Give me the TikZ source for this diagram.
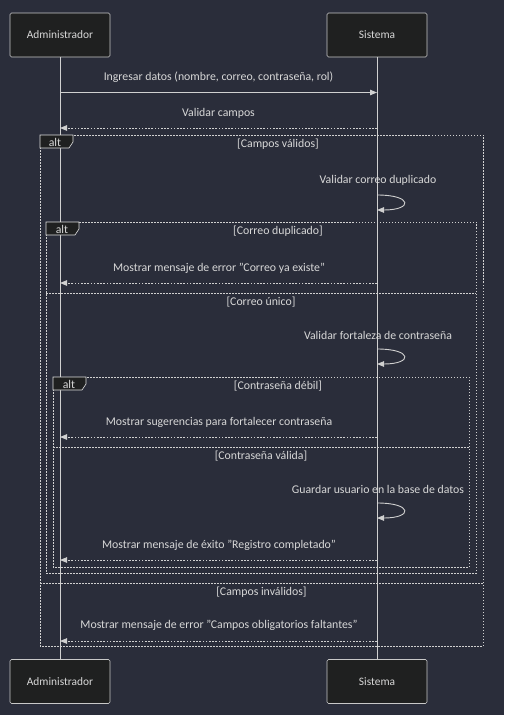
\documentclass[tikz,border=0pt]{standalone}
\usepackage{fontspec}
\setmainfont{Carlito}
\usetikzlibrary{arrows.meta}
\definecolor{bg}{HTML}{2A2D3A}
\definecolor{actfill}{HTML}{1F2020}
\definecolor{actline}{HTML}{C8C8C8}
\definecolor{ln}{HTML}{D0D0D0}
\definecolor{txt}{HTML}{D8D8D8}
\tikzset{
  actor/.style={draw=actline, fill=actfill, rounded corners=1.5pt, minimum width=100pt, minimum height=44pt, inner sep=0pt, text=txt, font=\fontsize{11.4}{13}\selectfont, line width=0.6pt},
  lifeline/.style={draw=ln, line width=0.9pt},
  msgtext/.style={text=txt, font=\fontsize{11.8}{13}\selectfont, inner sep=0pt},
  solidmsg/.style={draw=ln, line width=0.9pt, -{Triangle[length=7pt,width=5.5pt]}},
  dottedmsg/.style={draw=ln, line width=0.9pt, dash pattern=on 1.6pt off 1.6pt, -{Triangle[length=7pt,width=5.5pt]}},
  selfmsg/.style={draw=ln, line width=0.9pt, -{Triangle[length=7pt,width=5.5pt]}},
  frame/.style={draw=ln, line width=0.8pt, dash pattern=on 1.5pt off 1.5pt},
  altlabel/.style={draw=ln!70, fill=actfill, line width=0.6pt},
  altword/.style={text=txt, font=\fontsize{11.8}{13}\selectfont, inner sep=0pt},
  guard/.style={text=txt, font=\fontsize{11.8}{13}\selectfont, inner sep=0pt}
}
\begin{document}
\begin{tikzpicture}[x=1pt,y=-1pt]
\fill[bg] (0,0) rectangle (504,715);
\useasboundingbox (0,0) rectangle (504,715);

% actors
\node[actor] (admT) at (60,35) {Administrador};
\node[actor] (sisT) at (377,35) {Sistema};
\node[actor] (admB) at (60,681.5) {Administrador};
\node[actor] (sisB) at (377,681.5) {Sistema};

% lifelines
\draw[lifeline] (admT.south) -- (admB.north);
\draw[lifeline] (sisT.south) -- (sisB.north);

% frames
\draw[frame] (40,135) rectangle (483,646);
\draw[frame] (40,583) -- (483,583);
\draw[frame] (46,222) rectangle (476,573);
\draw[frame] (46,293) -- (476,293);
\draw[frame] (53,377) rectangle (469,567);
\draw[frame] (53,447) -- (469,447);

% alt labels
\draw[altlabel] (40,135) -- (73,135) -- (73,142) -- (69,148) -- (40,148) -- cycle;
\node[altword] (alt1) at (55,142) {alt};
\draw[altlabel] (46,222) -- (79,222) -- (79,229) -- (75,235) -- (46,235) -- cycle;
\node[altword] (alt2) at (62,229) {alt};
\draw[altlabel] (53,377) -- (86,377) -- (86,384) -- (82,390) -- (53,390) -- cycle;
\node[altword] (alt3) at (69,384) {alt};

% guards
\node[guard] (g1) at (278,144) {[Campos válidos]};
\node[guard] (g2) at (278,231) {[Correo duplicado]};
\node[guard] (g3) at (261,302) {[Correo único]};
\node[guard] (g4) at (278,386) {[Contraseña débil]};
\node[guard] (g5) at (261,456) {[Contraseña válida]};
\node[guard] (g6) at (261.5,592) {[Campos inválidos]};

% message coordinates
\coordinate (a1) at (60,92.5);  \coordinate (s1) at (377,92.5);
\coordinate (a2) at (60,128);   \coordinate (s2) at (377,128);
\coordinate (a6) at (60,283);   \coordinate (s6) at (377,283);
\coordinate (a10) at (60,437);  \coordinate (s10) at (377,437);
\coordinate (a13) at (60,560);  \coordinate (s13) at (377,560);
\coordinate (a15) at (60,641);  \coordinate (s15) at (377,641);
\coordinate (l1a) at (377,195); \coordinate (l1b) at (377,210);
\coordinate (l2a) at (377,349); \coordinate (l2b) at (377,364);
\coordinate (l3a) at (377,503); \coordinate (l3b) at (377,518);

% messages
\node[msgtext] (m1) at (218.5,77) {Ingresar datos (nombre, correo, contraseña, rol)};
\draw[solidmsg] (a1) -- (s1);
\node[msgtext] (m2) at (218.5,113) {Validar campos};
\draw[dottedmsg] (s2) -- (a2);

\node[msgtext] (m3) at (378,180) {Validar correo duplicado};
\draw[selfmsg] (l1a) .. controls (413,195) and (413,210) .. (l1b);

\node[msgtext] (m4) at (219,268) {Mostrar mensaje de error "Correo ya existe"};
\draw[dottedmsg] (s6) -- (a6);

\node[msgtext] (m5) at (378,335) {Validar fortaleza de contraseña};
\draw[selfmsg] (l2a) .. controls (413,349) and (413,364) .. (l2b);

\node[msgtext] (m6) at (219,422) {Mostrar sugerencias para fortalecer contraseña};
\draw[dottedmsg] (s10) -- (a10);

\node[msgtext] (m7) at (378,489) {Guardar usuario en la base de datos};
\draw[selfmsg] (l3a) .. controls (413,503) and (413,518) .. (l3b);

\node[msgtext] (m8) at (219,545) {Mostrar mensaje de éxito "Registro completado"};
\draw[dottedmsg] (s13) -- (a13);

\node[msgtext] (m9) at (219,625) {Mostrar mensaje de error "Campos obligatorios faltantes"};
\draw[dottedmsg] (s15) -- (a15);
\end{tikzpicture}
\end{document}
